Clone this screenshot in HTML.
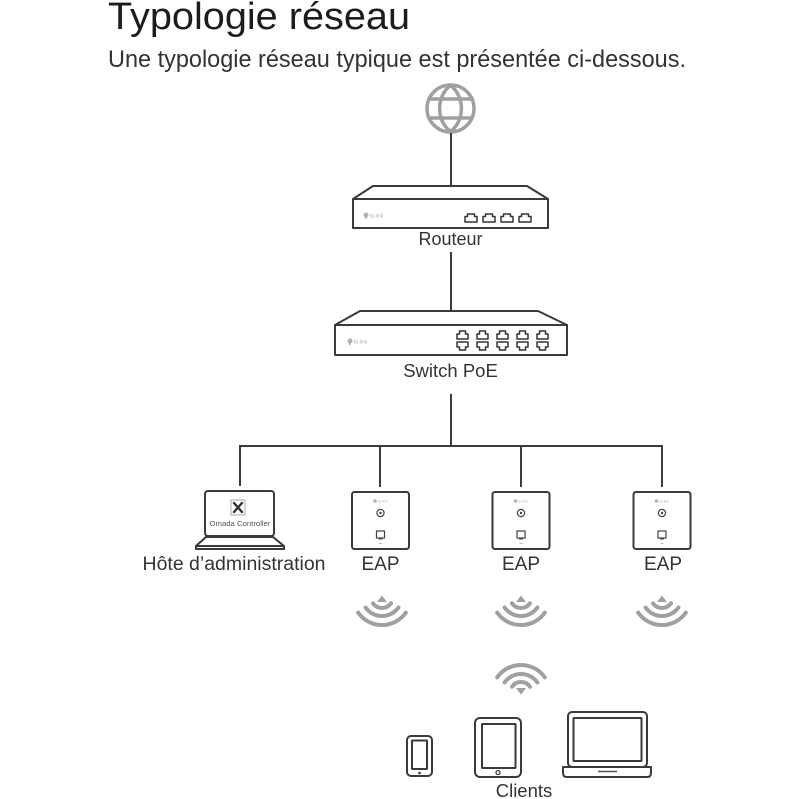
<!DOCTYPE html>
<html><head><meta charset="utf-8"><style>
html,body{margin:0;padding:0;background:#fff;}
svg{display:block;}
text{font-family:"Liberation Sans",Arial,sans-serif;}
</style></head><body>
<svg width="799" height="799" viewBox="0 0 799 799" xmlns="http://www.w3.org/2000/svg">
<rect width="799" height="799" fill="#fff"/>
<text x="108" y="29" font-size="38" fill="#1c1c1c" textLength="302" lengthAdjust="spacingAndGlyphs">Typologie réseau</text>
<text x="108" y="67" font-size="24" fill="#333" textLength="578" lengthAdjust="spacingAndGlyphs">Une typologie réseau typique est présentée ci-dessous.</text>

<!-- globe -->
<g fill="none" stroke="#a0a0a0" stroke-width="3.5">
<circle cx="450.5" cy="108.5" r="23.5"/>
<path d="M450.5,85.5 C436,96 436,121 450.5,131.5 C465,121 465,96 450.5,85.5 Z"/>
<line x1="429" y1="99" x2="472" y2="99"/>
<line x1="429" y1="118" x2="472" y2="118"/>
</g>

<g stroke="#3c3c3c" stroke-width="2" fill="none">
<line x1="451" y1="133" x2="451" y2="186"/>
<line x1="451" y1="252" x2="451" y2="311"/>
<line x1="451" y1="394" x2="451" y2="446"/>
<line x1="239" y1="446" x2="663" y2="446"/>
<line x1="240" y1="446" x2="240" y2="486"/>
<line x1="380" y1="446" x2="380" y2="487"/>
<line x1="521" y1="446" x2="521" y2="487"/>
<line x1="662" y1="446" x2="662" y2="487"/>
</g>

<!-- router -->
<g stroke="#3a3a3a" stroke-width="2" fill="#fff" stroke-linejoin="round">
<path d="M373,186 L527,186 L548,199 L353,199 Z"/>
<rect x="353" y="199" width="195" height="29"/>
</g>
<g fill="#b0b0b0"><circle cx="366" cy="215" r="2.5"/><rect x="365" y="215" width="1.6" height="4"/></g>
<text x="370" y="217.5" font-size="5" fill="#b0b0b0">tp-link</text>
<g fill="none" stroke="#333" stroke-width="1.5" stroke-linejoin="round">
<path id="pu" d="M465,222 L465,216.5 L467.5,216.5 L467.5,214 L474.5,214 L474.5,216.5 L477,216.5 L477,222 Z"/>
<path d="M483,222 L483,216.5 L485.5,216.5 L485.5,214 L492.5,214 L492.5,216.5 L495,216.5 L495,222 Z"/>
<path d="M501,222 L501,216.5 L503.5,216.5 L503.5,214 L510.5,214 L510.5,216.5 L513,216.5 L513,222 Z"/>
<path d="M519,222 L519,216.5 L521.5,216.5 L521.5,214 L528.5,214 L528.5,216.5 L531,216.5 L531,222 Z"/>
</g>
<text x="450.5" y="245" font-size="18" fill="#333" text-anchor="middle">Routeur</text>

<!-- switch -->
<g stroke="#3a3a3a" stroke-width="2" fill="#fff" stroke-linejoin="round">
<path d="M360,311 L538,311 L567,325 L335,325 Z"/>
<rect x="335" y="325" width="232" height="30"/>
</g>
<g fill="#b0b0b0"><circle cx="350" cy="341" r="2.5"/><rect x="349" y="341" width="1.6" height="4"/></g>
<text x="354" y="343.5" font-size="5" fill="#b0b0b0">tp-link</text>
<g fill="none" stroke="#333" stroke-width="1.5" stroke-linejoin="round">
<path d="M457,339 L457,334 L459.5,334 L459.5,331 L465.5,331 L465.5,334 L468,334 L468,339 Z"/>
<path d="M477,339 L477,334 L479.5,334 L479.5,331 L485.5,331 L485.5,334 L488,334 L488,339 Z"/>
<path d="M497,339 L497,334 L499.5,334 L499.5,331 L505.5,331 L505.5,334 L508,334 L508,339 Z"/>
<path d="M517,339 L517,334 L519.5,334 L519.5,331 L525.5,331 L525.5,334 L528,334 L528,339 Z"/>
<path d="M537,339 L537,334 L539.5,334 L539.5,331 L545.5,331 L545.5,334 L548,334 L548,339 Z"/>
<path d="M457,342 L457,347 L459.5,347 L459.5,350 L465.5,350 L465.5,347 L468,347 L468,342 Z"/>
<path d="M477,342 L477,347 L479.5,347 L479.5,350 L485.5,350 L485.5,347 L488,347 L488,342 Z"/>
<path d="M497,342 L497,347 L499.5,347 L499.5,350 L505.5,350 L505.5,347 L508,347 L508,342 Z"/>
<path d="M517,342 L517,347 L519.5,347 L519.5,350 L525.5,350 L525.5,347 L528,347 L528,342 Z"/>
<path d="M537,342 L537,347 L539.5,347 L539.5,350 L545.5,350 L545.5,347 L548,347 L548,342 Z"/>
</g>
<text x="450.5" y="377" font-size="18.5" fill="#333" text-anchor="middle">Switch PoE</text>

<!-- admin laptop -->
<g stroke="#3a3a3a" stroke-width="2" fill="#fff" stroke-linejoin="round">
<rect x="205" y="491" width="69" height="45" rx="3"/>
<path d="M206,537 L273,537 L284,546 L196,546 Z"/>
<path d="M196,546 L284,546 L284,549 L196,549 Z"/>
</g>
<rect x="231" y="500" width="14" height="15" fill="#fff" stroke="#aaa" stroke-width="1"/>
<g stroke="#333" stroke-width="2.4" stroke-linecap="round"><line x1="234" y1="503" x2="242" y2="512"/><line x1="242" y1="503" x2="234" y2="512"/></g>
<text x="240" y="526" font-size="7" fill="#555" text-anchor="middle" textLength="61" lengthAdjust="spacingAndGlyphs">Omada Controller</text>

<!-- EAPs -->
<g id="eaps">
<g stroke="#3a3a3a" stroke-width="2" fill="#fff">
<rect x="352" y="492" width="57" height="57" rx="2.5"/>
<rect x="492.5" y="492" width="57" height="57" rx="2.5"/>
<rect x="633.5" y="492" width="57" height="57" rx="2.5"/>
</g>
<g fill="#b5b5b5" font-size="3.5">
<circle cx="375" cy="501" r="1.8"/><text x="378" y="502.5">tp-link</text>
<circle cx="515.5" cy="501" r="1.8"/><text x="518.5" y="502.5">tp-link</text>
<circle cx="656.5" cy="501" r="1.8"/><text x="659.5" y="502.5">tp-link</text>
</g>
<g fill="none" stroke="#444" stroke-width="1.2">
<circle cx="380.5" cy="513" r="3.6"/><circle cx="521" cy="513" r="3.6"/><circle cx="662" cy="513" r="3.6"/>
<rect x="376.5" y="531" width="8" height="7"/><rect x="517" y="531" width="8" height="7"/><rect x="658" y="531" width="8" height="7"/>
</g>
<g fill="#444"><circle cx="380.5" cy="513" r="1.2"/><circle cx="521" cy="513" r="1.2"/><circle cx="662" cy="513" r="1.2"/>
<rect x="378.5" y="538" width="4" height="1.5"/><rect x="519" y="538" width="4" height="1.5"/><rect x="660" y="538" width="4" height="1.5"/></g>
<g fill="#bbb"><rect x="379" y="543" width="3" height="1"/><rect x="519.5" y="543" width="3" height="1"/><rect x="660.5" y="543" width="3" height="1"/></g>
</g>

<text x="234" y="570" font-size="19" fill="#333" text-anchor="middle" textLength="183" lengthAdjust="spacingAndGlyphs">Hôte d’administration</text>
<text x="380.5" y="570" font-size="19" fill="#333" text-anchor="middle">EAP</text>
<text x="521" y="570" font-size="19" fill="#333" text-anchor="middle">EAP</text>
<text x="663" y="570" font-size="19" fill="#333" text-anchor="middle">EAP</text>

<!-- inverted wifi -->
<g fill="none" stroke="#a0a0a0" stroke-width="4" stroke-linecap="round">
<g transform="translate(382,596)">
<path d="M-9,7.3 A11,11 0 0 0 9,7.3"/>
<path d="M-16.4,11.5 A20,20 0 0 0 16.4,11.5"/>
<path d="M-23.8,16.6 A29,29 0 0 0 23.8,16.6"/>
</g>
<g transform="translate(521,596)">
<path d="M-9,7.3 A11,11 0 0 0 9,7.3"/>
<path d="M-16.4,11.5 A20,20 0 0 0 16.4,11.5"/>
<path d="M-23.8,16.6 A29,29 0 0 0 23.8,16.6"/>
</g>
<g transform="translate(662,596)">
<path d="M-9,7.3 A11,11 0 0 0 9,7.3"/>
<path d="M-16.4,11.5 A20,20 0 0 0 16.4,11.5"/>
<path d="M-23.8,16.6 A29,29 0 0 0 23.8,16.6"/>
</g>
<g transform="translate(521,694)">
<path d="M-9,-7.3 A11,11 0 0 1 9,-7.3"/>
<path d="M-16.4,-11.5 A20,20 0 0 1 16.4,-11.5"/>
<path d="M-23.8,-16.6 A29,29 0 0 1 23.8,-16.6"/>
</g>
</g>
<g fill="#a0a0a0">
<path d="M377,602 L382,595.5 L387,602 Z"/>
<path d="M516,602 L521,595.5 L526,602 Z"/>
<path d="M657,602 L662,595.5 L667,602 Z"/>
<path d="M516,688 L521,694.5 L526,688 Z"/>
</g>

<!-- clients -->
<g stroke="#3a3a3a" stroke-width="2" fill="#fff" stroke-linejoin="round">
<rect x="407" y="736" width="25" height="40" rx="4"/>
<rect x="412" y="740.5" width="15" height="28.5" rx="0.5"/>
<rect x="475" y="718" width="46" height="59" rx="5"/>
<rect x="482" y="724" width="33.5" height="44" rx="0.5"/>
<rect x="568" y="712" width="79" height="55" rx="4"/>
<rect x="573.5" y="718" width="68" height="43" rx="0.5"/>
<path d="M563,767 L651,767 L651,773 Q651,777 647,777 L567,777 Q563,777 563,773 Z"/>
</g>
<circle cx="419.5" cy="773" r="1.3" fill="#3a3a3a"/>
<circle cx="498" cy="772.5" r="2" fill="none" stroke="#3a3a3a" stroke-width="1.3"/>
<line x1="598" y1="771.5" x2="617" y2="771.5" stroke="#555" stroke-width="1.5"/>
<text x="524" y="797" font-size="18.5" fill="#333" text-anchor="middle">Clients</text>
</svg>
</body></html>
